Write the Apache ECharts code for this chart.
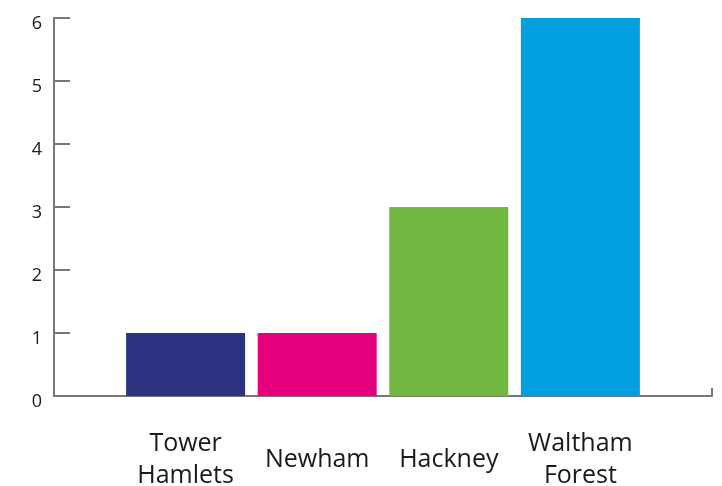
<!DOCTYPE html>
<html>
<head>
<meta charset="utf-8">
<script src="https://cdn.jsdelivr.net/npm/echarts@6/dist/echarts.min.js"></script>
<style>html,body{margin:0;padding:0;background:#fff;}#c{width:722px;height:486px;}</style>
</head>
<body>
<div id="c"></div>
<script>
var categories = ['Tower\nHamlets', 'Newham', 'Hackney', 'Waltham\nForest'];
var values = [1, 1, 3, 6];
var colors = ['#2b3380', '#e5007d', '#72b740', '#009fe0'];
var yTicks = [0, 1, 2, 3, 4, 5, 6];

var chart = echarts.init(document.getElementById('c'), null, {renderer: 'canvas'});
var positions = categories.map(function (c, i) { return i + 1; });
chart.setOption({
  animation: false,
  grid: {left: 54, right: 10, top: 18, bottom: 90, containLabel: false, outerBoundsMode: 'none'},
  xAxis: {
    type: 'value', min: 0, max: categories.length + 1, interval: 1,
    splitLine: {show: false},
    axisLine: {show: true, lineStyle: {color: '#777', width: 2}},
    axisTick: {show: true, inside: true, length: 8, customValues: [0, categories.length + 1], lineStyle: {color: '#777', width: 2}},
    axisLabel: {
      customValues: positions,
      margin: 64,
      verticalAlign: 'middle',
      fontFamily: 'Open Sans', fontSize: 25, lineHeight: 32, color: '#1a1a1a',
      formatter: function (v) { return categories[Math.round(v) - 1] || ''; }
    }
  },
  yAxis: {
    type: 'value', min: yTicks[0], max: yTicks[yTicks.length - 1], interval: 1,
    splitLine: {show: false},
    axisLine: {show: true, lineStyle: {color: '#777', width: 2}},
    axisTick: {show: true, inside: true, length: 16, lineStyle: {color: '#777', width: 2}},
    axisLabel: {margin: 12, verticalAlign: 'top', lineHeight: 12, fontFamily: 'Open Sans', fontSize: 18, color: '#1a1a1a'}
  },
  series: [{
    type: 'bar',
    barWidth: 119,
    data: values.map(function (v, i) {
      return {value: [positions[i], v], itemStyle: {color: colors[i]}};
    })
  }]
});
</script>
</body>
</html>
